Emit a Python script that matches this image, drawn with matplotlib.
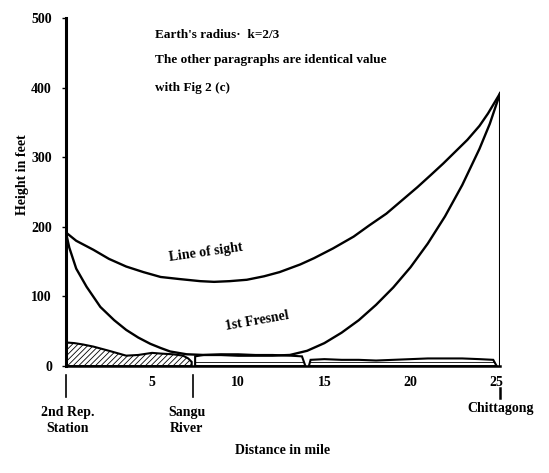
import matplotlib
matplotlib.use("Agg")
import matplotlib.pyplot as plt

plt.rcParams["font.family"] = ["Liberation Serif", "DejaVu Serif"]
plt.rcParams["hatch.linewidth"] = 0.6

# distance (mile) / height (feet)
los_d = [0, 0.6, 1.6, 2.5, 3.5, 4.5, 5.5, 6.6, 7.8, 8.6, 9.5, 10.5, 11.5, 12.4,
         13.6, 14.4, 15.5, 16.7, 17.6, 18.6, 19.5, 20.4, 21.2, 21.9, 22.6, 23.3,
         24.0, 24.5, 25.2]
los_h = [192, 180, 167, 154, 143, 135, 128, 125, 122, 121, 122, 124, 129, 135,
         146, 155, 169, 186, 202, 219, 238, 257, 275, 291, 308, 325,
         345, 363, 392]

fres_d = [0, 0.2, 0.6, 1.2, 2.0, 2.8, 3.5, 4.2, 4.9, 5.5, 6.05, 7, 8, 9, 10, 11,
          12, 13, 14, 15, 16, 17, 18, 19, 20, 21, 22, 23, 24, 24.6, 25.2]
fres_h = [192, 170, 140, 114, 85, 66, 52, 41, 32, 26, 21, 17, 16, 16, 15, 15,
          15, 16, 22, 33, 48, 66, 88, 113, 142, 176, 215, 260, 312, 348, 392]

terr1_d = [0, 0, 0.5, 1, 1.6, 2.5, 3.5, 4.2, 5, 5.5, 6.2, 6.8, 7.1, 7.3, 7.3]
terr1_h = [0, 34, 33, 31, 28, 22, 15, 16, 19, 18, 17, 15, 11, 6, 0]

terr2_d = [7.5, 7.5, 8, 9, 10, 11, 12, 13, 13.7, 13.9]
terr2_h = [0, 14, 16, 17, 17, 16, 16, 15, 14, 0]

terr3_d = [14.1, 14.2, 15, 16, 17, 18, 19, 20, 21, 22, 23, 24, 24.8, 25.0]
terr3_h = [0, 9, 10, 9, 9, 8, 9, 10, 11, 11, 11, 10, 9, 0]

station_d = [0, 7.4, 25.2]
station_names = ["2nd Rep.\nStation", "Sangu\nRiver", "Chittagong"]

fig = plt.figure(figsize=(5.49, 4.73), dpi=100)
ax = fig.add_axes([0.120, 0.226, 0.791, 0.736])

ax.fill(terr1_d, terr1_h, facecolor="white", edgecolor="black", hatch="//////", lw=1.5)
ax.fill(terr2_d, terr2_h, facecolor="white", edgecolor="black", hatch="--", lw=1.5)
ax.fill(terr3_d, terr3_h, facecolor="white", edgecolor="black", hatch="--", lw=1.5)

ax.plot(los_d, los_h, color="black", lw=1.7)
ax.plot(fres_d, fres_h, color="black", lw=1.7)

# Chittagong tower
ax.plot([station_d[2], station_d[2]], [0, los_h[-1]], color="black", lw=1.5)

ax.set_xlim(0, 25.2)
ax.set_ylim(0, 500)
for s in ["top", "right"]:
    ax.spines[s].set_visible(False)
ax.spines["left"].set_linewidth(2.2)
ax.spines["bottom"].set_linewidth(1.8)

ax.set_yticks([0, 100, 200, 300, 400, 500])
ax.set_yticklabels(["0", "100", "200", "300", "400", "500"], fontweight="bold", fontsize=10)
ax.tick_params(axis="y", length=3, width=1, pad=7)
ax.set_xticks([5, 10, 15, 20, 25])
ax.set_xticklabels(["5", "10", "15", "20", "25"], fontweight="bold", fontsize=10)
ax.tick_params(axis="x", length=0, pad=7)

ax.set_ylabel("Height in feet", fontweight="bold", fontsize=10)
ax.yaxis.set_label_coords(-0.085, 0.55)
ax.set_xlabel("Distance in mile", fontweight="bold", fontsize=10, labelpad=40)

# station markers below the axis
ax.plot([station_d[0]] * 2, [-13, -44], color="black", lw=1.2, clip_on=False)
ax.plot([station_d[1]] * 2, [-13, -44], color="black", lw=1.2, clip_on=False)
ax.plot([station_d[2]] * 2, [-32, -46], color="black", lw=1.8, clip_on=False)
ax.text(0.1, -58, station_names[0], ha="center", va="top", fontweight="bold", fontsize=10,
        linespacing=1.25)
ax.text(7.0, -58, station_names[1], ha="center", va="top", fontweight="bold", fontsize=10,
        linespacing=1.25)
ax.text(25.2, -52, station_names[2], ha="center", va="top", fontweight="bold", fontsize=10)

ax.text(5.2, 476, "Earth's radius·  k=2/3", fontweight="bold", fontsize=9.5, va="center")
ax.text(5.2, 439, "The other paragraphs are identical value", fontweight="bold",
        fontsize=9.5, va="center")
ax.text(5.2, 399, "with Fig 2 (c)", fontweight="bold", fontsize=9.5, va="center")

ax.text(8.1, 163, "Line of sight", fontweight="bold", fontsize=10, rotation=8,
        ha="center", va="center")
ax.text(11.1, 65, "1st Fresnel", fontweight="bold", fontsize=10, rotation=10,
        ha="center", va="center")

fig.savefig("out.png", dpi=100)
